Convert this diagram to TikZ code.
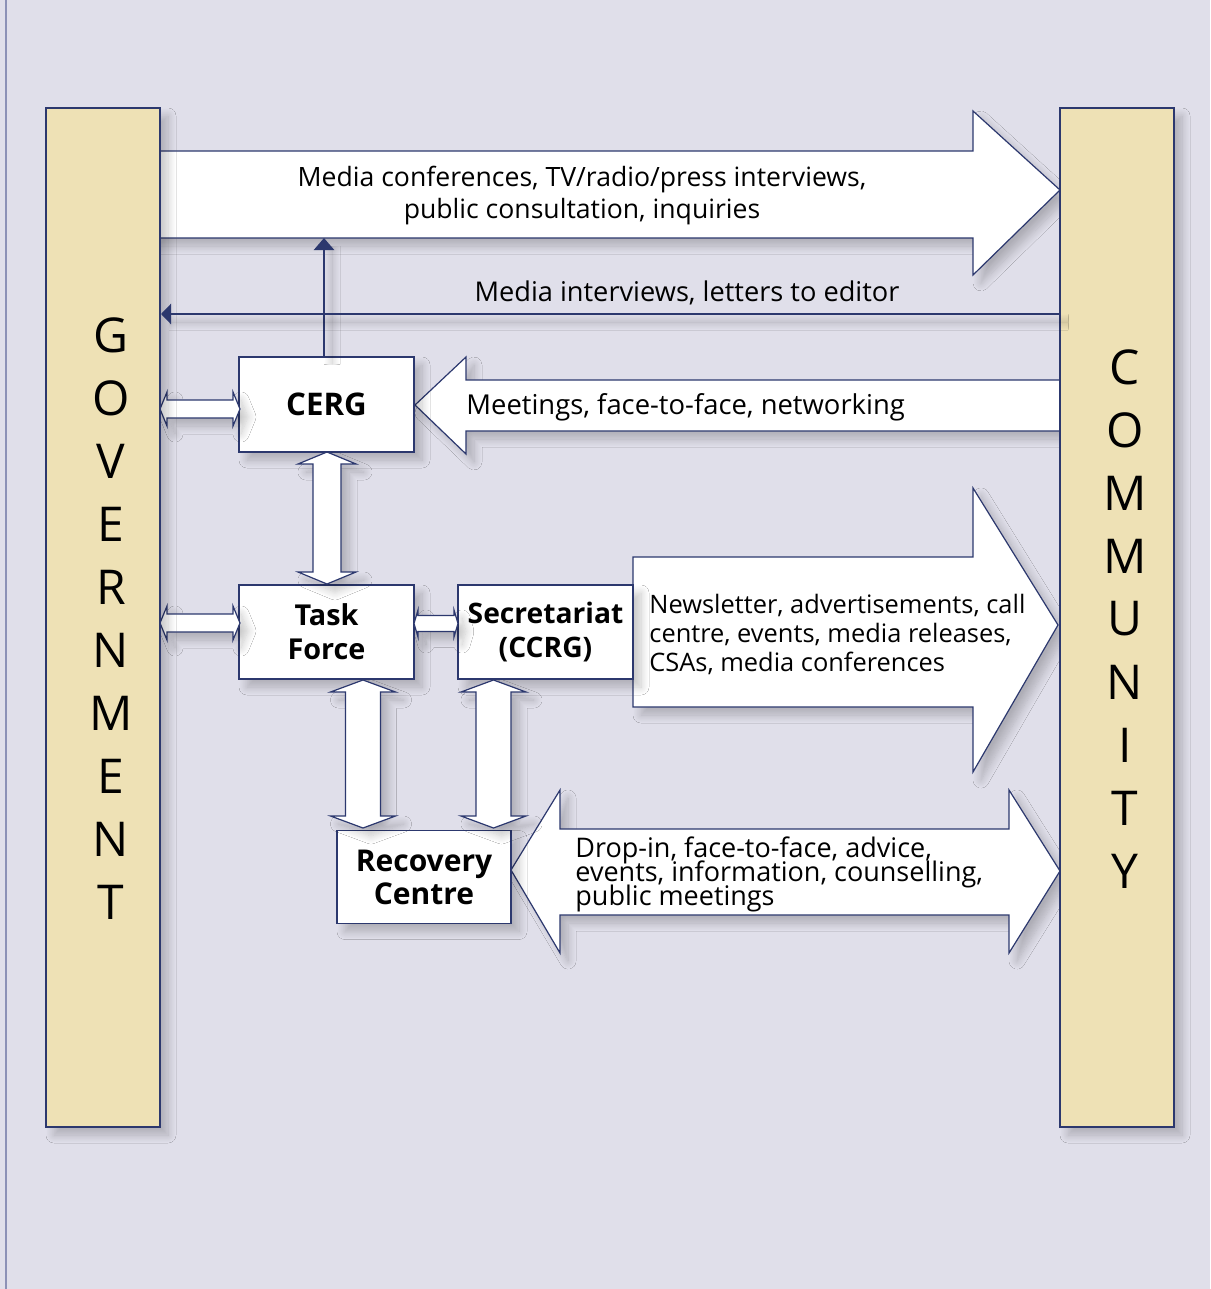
\documentclass[tikz,border=0pt]{standalone}
\usepackage{fontspec}
\setmainfont{Open Sans}
\usetikzlibrary{arrows.meta,shadows.blur}
\definecolor{bg}{RGB}{224,223,234}
\definecolor{navy}{RGB}{44,56,110}
\definecolor{beige}{RGB}{238,225,181}
\definecolor{edgeline}{RGB}{140,145,182}
\newcommand\tightlines{\setlength{\lineskiplimit}{-100pt}\setlength{\lineskip}{0pt}}
\newcommand\hdarr[6]{% x1 x2 yc shafthalf headhalf headlen
  \draw[thinarrow] (#1,#3) -- (#1+#6,#3-#5) -- (#1+#6,#3-#4) -- (#2-#6,#3-#4) -- (#2-#6,#3-#5) -- (#2,#3) -- (#2-#6,#3+#5) -- (#2-#6,#3+#4) -- (#1+#6,#3+#4) -- (#1+#6,#3+#5) -- cycle;}
\newcommand\vdarr[6]{% y1 y2 xc shafthalf headhalf headlen
  \draw[thinarrow] (#3,#1) -- (#3+#5,#1+#6) -- (#3+#4,#1+#6) -- (#3+#4,#2-#6) -- (#3+#5,#2-#6) -- (#3,#2) -- (#3-#5,#2-#6) -- (#3-#4,#2-#6) -- (#3-#4,#1+#6) -- (#3-#5,#1+#6) -- cycle;}
\begin{document}
\begin{tikzpicture}[x=0.5pt,y=-0.5pt,
  shad/.style={blur shadow={shadow xshift=4pt, shadow yshift=-4pt, shadow blur radius=4pt, shadow blur steps=10, shadow opacity=22}},
  thinarrow/.style={draw=navy, line width=0.6pt, fill=white, line join=miter, shad},
  bigarrow/.style={draw=navy, line width=0.6pt, fill=white, line join=miter, shad},
  bar/.style={draw=navy, line width=1.4pt, fill=beige, shad, minimum width=57pt, minimum height=509.5pt, inner sep=0pt},
  box/.style={draw=navy, line width=0.7pt, fill=white, shad, inner sep=0pt, align=center},
  lbl/.style={inner sep=0pt},
  bigletter/.style={font=\fontsize{24}{24}\selectfont, inner sep=0pt},
  navyline/.style={draw=navy, line width=1.2pt, shad}
]
\fill[bg] (0,0) rectangle (1210,1289);
\useasboundingbox (0,0) rectangle (1210,1289);
\draw[edgeline, line width=1pt] (6,0) -- (6,1289);

% big communication arrows
\draw[bigarrow] (150,151) -- (973,151) -- (973,111) -- (1060,190) -- (973,275) -- (973,238) -- (150,238) -- cycle;
\node[lbl, align=center, font=\fontsize{13.3}{16}\selectfont] (toptext) at (582,196) {Media conferences, TV/radio/press interviews,\\public consultation, inquiries};

\draw[bigarrow] (1070,380) -- (466,380) -- (466,357) -- (415,405) -- (466,454) -- (466,431) -- (1070,431) -- cycle;
\node[lbl, anchor=west, font=\fontsize{13.7}{16}\selectfont] (meettext) at (466,407) {Meetings, face-to-face, networking};

\draw[bigarrow] (633,557) -- (973,557) -- (973,488) -- (1058,625) -- (973,772) -- (973,707) -- (633,707) -- cycle;
\node[lbl, anchor=west, align=left, font=\fontsize{12.7}{14.5}\selectfont] (newstext) at (649,634) {Newsletter, advertisements, call\\centre, events, media releases,\\CSAs, media conferences};

\draw[bigarrow] (511,870) -- (560,790) -- (560,829) -- (1009,829) -- (1009,790) -- (1060,871) -- (1009,953) -- (1009,915) -- (560,915) -- (560,953) -- cycle;
\node[lbl, anchor=west, align=left, font={\fontsize{13.5}{12}\selectfont\tightlines}] (droptext) at (575,874) {Drop-in, face-to-face, advice,\\events, information, counselling,\\public meetings};

% boxes
\node[box, minimum width=87.5pt, minimum height=47.5pt, font=\fontsize{15.6}{17}\selectfont\bfseries] (CERG) at (326.5,404.5) {CERG};
\node[box, minimum width=87.5pt, minimum height=47pt, font=\fontsize{14.4}{17}\selectfont\bfseries] (TF) at (326.5,632) {Task\\Force};
\node[box, minimum width=87.5pt, minimum height=47pt, font=\fontsize{14.1}{17}\selectfont\bfseries] (SEC) at (545.5,632) {Secretariat\\(CCRG)};
\node[box, minimum width=87pt, minimum height=46.5pt, font=\fontsize{15}{16.5}\selectfont\bfseries] (REC) at (424,877) {Recovery\\Centre};

% double arrows between boxes
\hdarr{160}{240}{409}{9}{17}{7}
\hdarr{160}{240}{623}{9}{17}{7}
\hdarr{414}{458}{623.5}{8}{13.5}{4}
\vdarr{452}{584}{327}{14}{29}{12}
\vdarr{680}{828}{363}{17.5}{32.5}{12}
\vdarr{680}{828}{493.5}{17.5}{32.5}{12}

% bars
\node[bar] (GOV) at (103,617.5) {};
\node[bar] (COM) at (1117,617.5) {};

% thin navy connectors
\coordinate (topbody) at (324,238);
\draw[navyline, -{Triangle[width=10pt,length=6pt]}] (CERG.north -| topbody) -- (topbody);
\coordinate (mistart) at (1060,314);
\coordinate (miend) at (161,314);
\draw[navyline, -{Triangle[width=10pt,length=5pt]}] (mistart) -- (miend);
\node[lbl, font=\fontsize{13.6}{16}\selectfont] (mitext) at (687,293) {Media interviews, letters to editor};

% vertical words
\foreach \l [count=\i from 0] in {G,O,V,E,R,N,M,E,N,T}
  \node[bigletter] (gov\i) at (111,335+63*\i) {\l};
\foreach \l [count=\i from 0] in {C,O,M,M,U,N,I,T,Y}
  \node[bigletter] (com\i) at (1125,367+63*\i) {\l};
\end{tikzpicture}
\end{document}
